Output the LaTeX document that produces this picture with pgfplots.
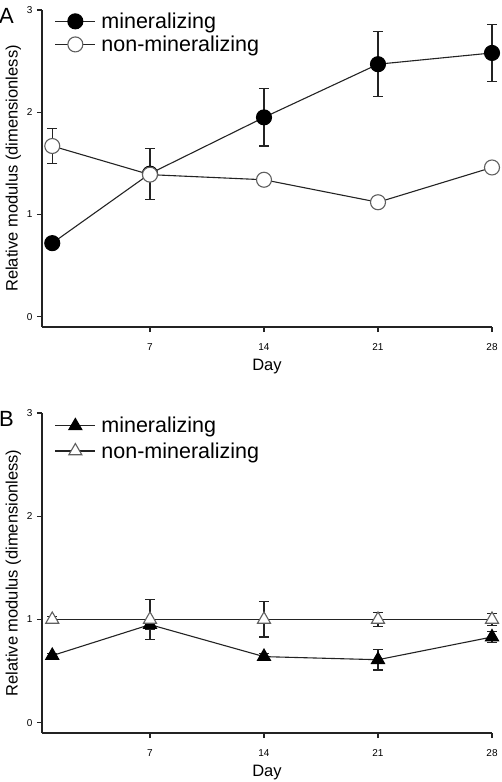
\documentclass[border=0pt]{standalone}
\usepackage{fontspec}
\setmainfont{Liberation Sans}
\usepackage{pgfplots}
\pgfplotsset{compat=1.18}
\definecolor{ln}{RGB}{35,35,35}
\definecolor{og}{RGB}{95,95,95}
\pgfplotsset{
  panel/.style={
    scale only axis, width=450pt,
    axis x line=bottom, axis y line=left,
    axis line style={-, ln, line width=1.1pt},
    xmin=0.37, xmax=28, ymin=-0.1, ymax=3,
    xtick={7,14,21,28}, ytick={0,1,2,3},
    tick align=outside, major tick length=5pt,
    tick style={ln, line width=1.1pt},
    /pgf/number format/assume math mode=true,
    ticklabel style={font=\fontsize{10}{11}\selectfont},
    xticklabel style={anchor=center, yshift=-15pt},
    yticklabel style={xshift=-1pt},
    xlabel={Day}, ylabel={Relative modulus (dimensionless)},
    xlabel style={font=\fontsize{16.5}{18}\selectfont, at={(rel axis cs:0.5,0)}, anchor=center, yshift=-40pt},
    ylabel style={font=\fontsize{16.5}{18}\selectfont, yshift=-1pt},
    legend style={draw=none, fill=none, anchor=north west,
      font=\fontsize{21.5}{24}\selectfont, inner sep=0pt, row sep=4pt,
      nodes={inner xsep=5.5pt, inner ysep=1pt}},
    legend cell align=left,
    legend image code/.code={\draw[mark repeat=2,mark phase=2] plot coordinates {(0pt,0pt)(20pt,0pt)(40pt,0pt)};},
    clip=false,
  },
  eb/.style={error bars/.cd, y dir=both, y explicit,
    error bar style={ln, line width=1.1pt},
    error mark options={rotate=90, mark size=5pt, ln, line width=1.1pt}},
}
\begin{document}
\begin{tikzpicture}[x=1pt,y=1pt]
\useasboundingbox (0,0) rectangle (501,-782);
\begin{axis}[panel, height=317pt, at={(42pt,-327pt)}, anchor=south west,
  legend style={at={(rel axis cs:0.028,0.995)}}]
\addplot[ln, line width=1.1pt, mark=*, mark size=7.5pt, mark options={fill=black, draw=black}, eb]
  coordinates {(1,0.72) +- (0,0.05) (7,1.40) +- (0,0.25) (14,1.95) +- (0,0.28) (21,2.47) +- (0,0.32) (28,2.58) +- (0,0.28)};
\addlegendentry{mineralizing}
\addplot[ln, line width=1.1pt, mark=*, mark size=7.5pt, mark options={fill=white, draw=og}, eb]
  coordinates {(1,1.67) +- (0,0.17) (7,1.39) +- (0,0.03) (14,1.34) +- (0,0.02) (21,1.12) +- (0,0.03) (28,1.46) +- (0,0.05)};
\addlegendentry{non-mineralizing}
\node[font=\fontsize{22}{24}\selectfont, anchor=base west, inner sep=0pt] at (-37pt, 2.87) {A};
\end{axis}
\begin{axis}[panel, height=320pt, at={(42pt,-733pt)}, anchor=south west,
  legend style={at={(rel axis cs:0.028,0.99)}, row sep=6pt}]
\addplot[ln, line width=1.1pt, mark=triangle*, mark size=7.5pt, mark options={fill=black, draw=black}, eb]
  coordinates {(1,0.65) +- (0,0.02) (7,0.95) +- (0,0.05) (14,0.64) +- (0,0.03) (21,0.61) +- (0,0.10) (28,0.83) +- (0,0.05)};
\addlegendentry{mineralizing}
\addplot[ln, line width=1.1pt, mark=triangle*, mark size=7.5pt, mark options={fill=white, draw=og}, eb]
  coordinates {(1,1.0) +- (0,0.03) (7,1.0) +- (0,0.19) (14,1.0) +- (0,0.17) (21,1.0) +- (0,0.07) (28,1.0) +- (0,0.06)};
\addlegendentry{non-mineralizing}
\node[font=\fontsize{22}{24}\selectfont, anchor=base west, inner sep=0pt] at (-37pt, 2.87) {B};
\end{axis}
\end{tikzpicture}
\end{document}
